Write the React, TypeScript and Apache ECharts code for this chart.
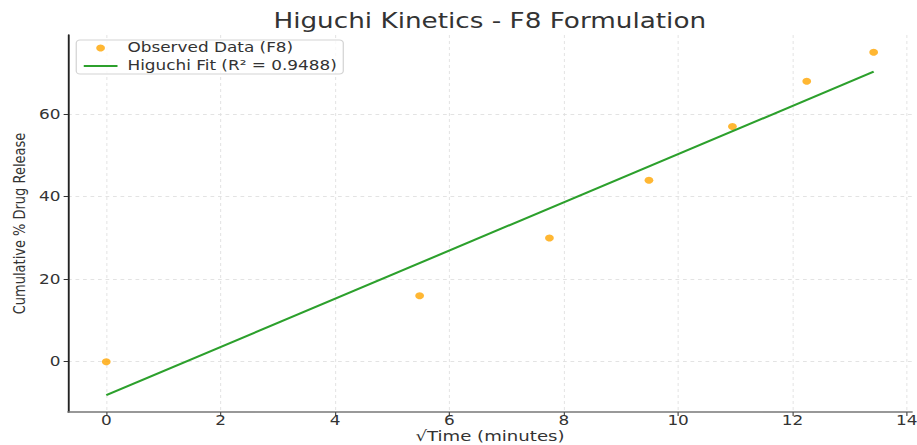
import React, { useEffect, useRef } from "react";
import * as echarts from "echarts";

// Square root of sampling time (minutes) and cumulative release (%)
const sqrtTime = [0, 5.48, 7.75, 9.49, 10.95, 12.25, 13.42];
const releasePct = [0, 16, 30, 44, 57, 68, 75];

// Higuchi fit line end points
const fitX = [0, 13.42];
const fitY = [-8.1, 70.3];

const xTicks = [0, 2, 4, 6, 8, 10, 12, 14];
const yTicks = [0, 20, 40, 60];

const observedName = "Observed Data (F8)";
const fitName = "Higuchi Fit (R\u00b2 = 0.9488)";
const titleText = "Higuchi Kinetics - F8 Formulation";

// The figure is drawn narrower and widened horizontally as a whole
const STRETCH = 1.25;
const PAGE_W = 917;
const PAGE_H = 445;
const FONT = "DejaVu Sans";

export default function App() {
  const ref = useRef<HTMLDivElement>(null);

  useEffect(() => {
    if (!ref.current) return;
    const chart = echarts.init(ref.current, null, { renderer: "svg" });
    const gridLeft = 54.4;
    const gridRight = 4.4;
    const innerW = PAGE_W / STRETCH;
    chart.setOption({
      animation: false,
      backgroundColor: "#ffffff",
      textStyle: { fontFamily: FONT },
      graphic: [
        {
          type: "text",
          x: (gridLeft + innerW - gridRight) / 2,
          y: 21,
          style: {
            text: titleText,
            fontSize: 21,
            fontFamily: FONT,
            fill: "#333333",
            align: "center",
            verticalAlign: "middle",
          },
        },
      ],
      grid: { left: gridLeft, right: gridRight, top: 35, bottom: 33, outerBoundsMode: "none", containLabel: false },
      legend: {
        orient: "vertical",
        left: 61,
        top: 40,
        itemWidth: 27,
        itemHeight: 7,
        itemGap: 4,
        padding: [1, 5, 1, 5],
        backgroundColor: "rgba(255,255,255,0.8)",
        borderColor: "#d4d4d4",
        borderWidth: 1,
        borderRadius: 3,
        textStyle: { fontSize: 13.5, color: "#333333", fontFamily: FONT, lineHeight: 14, padding: [0, 0, 0, 3] },
        data: [
          { name: observedName, icon: "circle" },
          { name: fitName, itemStyle: { opacity: 0 } },
        ],
      },
      xAxis: {
        type: "value",
        min: -0.67,
        max: 14.09,
        name: "\u221aTime (minutes)",
        nameLocation: "middle",
        nameGap: 17.5,
        nameMoveOverlap: false,
        nameTextStyle: { fontSize: 14.5, lineHeight: 14, color: "#333333", fontFamily: FONT },
        axisLine: { onZero: false, lineStyle: { color: "#777777", width: 1.5 } },
        axisTick: { show: true, length: 4, customValues: xTicks, lineStyle: { color: "#555555" } },
        axisLabel: { customValues: xTicks, fontSize: 13.5, lineHeight: 13, color: "#333333", margin: 1.8, fontFamily: FONT },
        splitLine: { show: true, lineStyle: { color: "#e0e0e0", width: 0.8, type: [3, 3] } },
      },
      yAxis: {
        type: "value",
        min: -12.2,
        max: 79.2,
        name: "Cumulative % Drug Release",
        nameLocation: "middle",
        nameGap: 33,
        nameMoveOverlap: false,
        nameTextStyle: { fontSize: 13, color: "#333333", fontFamily: FONT },
        axisLine: { show: true, onZero: false, lineStyle: { color: "#222222", width: 1.5 } },
        axisTick: { show: true, length: 3.5, customValues: yTicks, lineStyle: { color: "#333333" } },
        axisLabel: { customValues: yTicks, fontSize: 13.5, color: "#333333", margin: 6, fontFamily: FONT },
        splitLine: { show: true, lineStyle: { color: "#e0e0e0", width: 0.8, type: [3, 3] } },
      },
      series: [
        {
          name: observedName,
          type: "scatter",
          data: sqrtTime.map((x, i) => [x, releasePct[i]]),
          symbol: "circle",
          symbolSize: 7,
          itemStyle: { color: "#FFA500" },
          z: 2,
        },
        {
          name: fitName,
          type: "line",
          data: fitX.map((x, i) => [x, fitY[i]]),
          symbol: "none",
          lineStyle: { color: "#2ca02c", width: 2 },
          itemStyle: { color: "#2ca02c" },
          z: 3,
        },
      ],
    });
    return () => chart.dispose();
  }, []);

  return (
    <div
      ref={ref}
      style={{
        position: "fixed",
        left: 0,
        top: 0,
        width: PAGE_W / STRETCH,
        height: PAGE_H,
        transform: `scaleX(${STRETCH})`,
        transformOrigin: "0 0",
        background: "#ffffff",
      }}
    />
  );
}
